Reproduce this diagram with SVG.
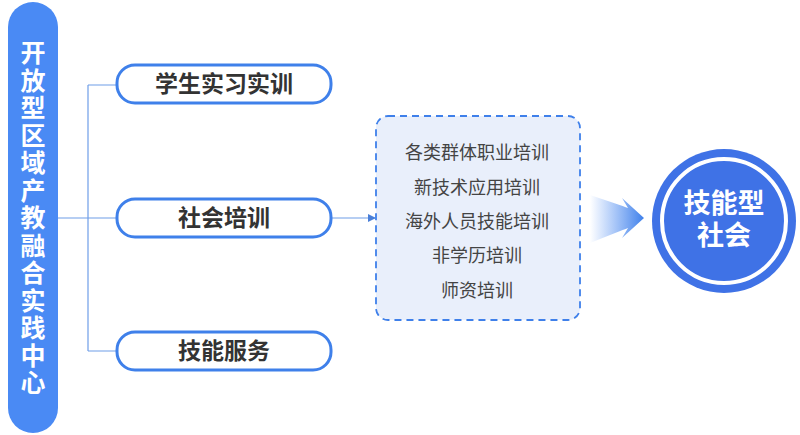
<svg xmlns="http://www.w3.org/2000/svg" width="800" height="435" viewBox="0 0 800 435">
<style>
.b{fill:#fff;stroke:#3f80ea;stroke-width:3}
.bt{font-family:"Noto Sans CJK SC",sans-serif;font-weight:bold;font-size:23px;fill:#333;text-anchor:middle}
.lt{font-family:"Noto Sans CJK SC",sans-serif;font-size:18px;fill:#444;text-anchor:middle}
.c{stroke:#6f9ee8;stroke-width:1.2;fill:none}
.v{font-family:"Noto Sans CJK SC",sans-serif;font-weight:bold;font-size:25px;fill:#fff;text-anchor:middle}
</style>
<defs>
<linearGradient id="g" x1="0" x2="1" y1="0" y2="0"><stop offset="0" stop-color="#4a8af4" stop-opacity="0"/><stop offset="1" stop-color="#3f80ea"/></linearGradient>
<marker id="m" markerWidth="8" markerHeight="8" refX="7" refY="4" orient="auto" markerUnits="userSpaceOnUse"><path d="M0,0 L8,4 L0,8z" fill="#4a7fd8"/></marker>
</defs>
<g id="connectors">
<path class="c" d="M58,218 H117 M88,85 V351 M88,85 H117 M88,351 H117"/>
<path class="c" d="M331,218 H375" marker-end="url(#m)"/>
<path d="M590,195 Q620,205 628,208 L622,198 L644,218 L622,238 L628,228 Q620,231 590,243 Z" fill="url(#g)"/>
</g>
<g id="center"><rect x="8" y="2" width="50" height="431" rx="25" fill="#4a8af4"/>
<text class="v" x="33" y="62">开</text><text class="v" x="33" y="89.5">放</text><text class="v" x="33" y="117">型</text><text class="v" x="33" y="144.5">区</text><text class="v" x="33" y="172">域</text><text class="v" x="33" y="199.5">产</text><text class="v" x="33" y="227">教</text><text class="v" x="33" y="254.5">融</text><text class="v" x="33" y="282">合</text><text class="v" x="33" y="309.5">实</text><text class="v" x="33" y="337">践</text><text class="v" x="33" y="364.5">中</text><text class="v" x="33" y="392">心</text></g>
<g id="n1"><rect class="b" x="117" y="65" width="214" height="38" rx="18"/><text class="bt" x="224" y="92">学生实习实训</text></g>
<g id="n2"><rect class="b" x="117" y="199" width="214" height="38" rx="18"/><text class="bt" x="224" y="226">社会培训</text></g>
<g id="n3"><rect class="b" x="117" y="332" width="214" height="38" rx="18"/><text class="bt" x="224" y="359">技能服务</text></g>
<g id="list"><rect x="376" y="116" width="204" height="204" rx="12" fill="#e9effb" stroke="#3f80ea" stroke-width="1.8" stroke-dasharray="7,5"/>
<text class="lt" x="477" y="159">各类群体职业培训</text>
<text class="lt" x="477" y="194">新技术应用培训</text>
<text class="lt" x="477" y="228">海外人员技能培训</text>
<text class="lt" x="477" y="262">非学历培训</text>
<text class="lt" x="477" y="297">师资培训</text></g>
<g id="goal"><circle cx="724" cy="221" r="72" fill="#3f72e6"/><circle cx="724" cy="221" r="62" fill="none" stroke="#fff" stroke-width="4"/>
<text font-family="Noto Sans CJK SC,sans-serif" font-weight="bold" font-size="27" fill="#fff" text-anchor="middle"><tspan x="724" y="213">技能型</tspan><tspan x="724" y="245">社会</tspan></text></g>
</svg>
